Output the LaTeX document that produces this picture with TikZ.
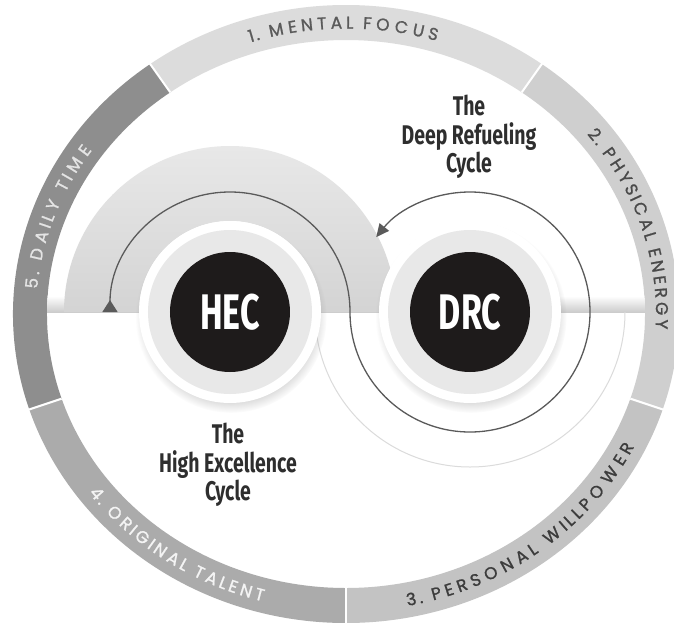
\documentclass[tikz,border=0pt]{standalone}
\usepackage{fontspec}
\usepackage{graphicx}
\usetikzlibrary{arrows.meta,decorations.text,shadows,fadings}
\newfontfamily\ringfont[FakeBold=1.2]{Poppins}
\newfontfamily\condfont{Fira Sans}
\definecolor{segA}{HTML}{DCDCDC}
\definecolor{segB}{HTML}{CFCFCF}
\definecolor{segC}{HTML}{C3C3C3}
\definecolor{segD}{HTML}{ABABAB}
\definecolor{segE}{HTML}{8E8E8E}
\definecolor{txtA}{HTML}{5A5A5A}
\definecolor{txtB}{HTML}{4A4A4A}
\definecolor{txtC}{HTML}{3C3C3C}
\definecolor{txtD}{HTML}{F4F4F4}
\definecolor{txtE}{HTML}{E4E4E4}
\definecolor{corefill}{HTML}{1E1B1B}
\definecolor{arcgray}{HTML}{5A5A5A}
\definecolor{labelgray}{HTML}{2E2E2E}
\begin{document}
\begin{tikzpicture}[x=1pt,y=1pt,
  ringtext/.style 2 args={decorate,decoration={text effects along path,text={#2},
    text effects/.cd,fit text to path,characters={text along path,inner sep=0pt,text=#1,font=\ringfont\fontsize{17}{17}\selectfont}}},
  outerdisc/.style={circle,fill=white,minimum size=182pt,inner sep=0pt,
    circular drop shadow={shadow xshift=1pt,shadow yshift=-5pt,shadow scale=1.05,opacity=.35}},
  innerdisc/.style={circle,fill=black!9,minimum size=164pt,inner sep=0pt},
  core/.style={circle,fill=corefill,minimum size=120pt,inner sep=0pt,text=white,
    font=\condfont\bfseries\fontsize{50}{50}\selectfont},
  cyclelabel/.style={text=labelgray,inner sep=0pt,font=\condfont\bfseries\fontsize{27}{24}\selectfont},
  cycleline/.style={draw=arcgray,line width=1.3pt,
    {Triangle[reversed,width=15pt,length=12pt]}-{Triangle[width=12pt,length=13pt]}}]
  \def\rxo{333}
  \def\ryo{309}
  \def\rxi{299}
  \def\ryi{274}
  \useasboundingbox (-346,-310) rectangle (328,312);
  \fill[white] (-346,-310) rectangle (328,312);

  % outer ring of five parts
  \begin{scope}[shift={(0,-2)}]
    \foreach \a/\b/\c in {54/126/segA,-18/54/segB,-90/-18/segC,198/270/segD,126/198/segE}
      \fill[\c] (\a:\rxo pt and \ryo pt) arc[start angle=\a,end angle=\b,x radius=\rxo,y radius=\ryo]
        -- (\b:\rxi pt and \ryi pt) arc[start angle=\b,end angle=\a,x radius=\rxi,y radius=\ryi] -- cycle;
    \foreach \a in {-90,-18,54,126,198}
      \draw[white,line width=2pt] (\a:\rxi pt and \ryi pt) -- (\a:340pt and 316pt);
    \path[ringtext={txtA}{1. MENTAL FOCUS}] (108:310pt and 285.5pt) arc[start angle=108,end angle=73,x radius=310,y radius=285.5];
    \path[ringtext={txtB}{2. PHYSICAL ENERGY}] (39:310pt and 285.5pt) arc[start angle=39,end angle=-3,x radius=310,y radius=285.5];
    \path[ringtext={txtC}{3. PERSONAL WILLPOWER}] (-79:322pt and 297.5pt) arc[start angle=-79,end angle=-26.5,x radius=322,y radius=297.5];
    \path[ringtext={txtD}{4. ORIGINAL TALENT}] (217:322pt and 297.5pt) arc[start angle=217,end angle=255,x radius=322,y radius=297.5];
    \path[ringtext={txtE}{5. DAILY TIME}] (175:310pt and 285.5pt) arc[start angle=175,end angle=145,x radius=310,y radius=285.5];
    % shadow along the middle line
    \clip (0,0) ellipse[x radius=\rxi,y radius=\ryi];
    \shade[top color=white,bottom color=black!20] (-300,2) rectangle (300,18);
  \end{scope}

  \coordinate (hecc) at (-116,0);
  \coordinate (drcc) at (124,0);

  % band over HEC, white band under DRC
  \shade[top color=black!9,bottom color=black!17] ([xshift=-166pt]hecc) arc[start angle=180,end angle=0,radius=166]
    -- ([xshift=91pt]hecc) arc[start angle=0,end angle=180,radius=91] -- cycle;
  \draw[black!14,line width=1pt] ([xshift=-155pt]drcc) arc[start angle=180,end angle=360,radius=155];

  \draw[cycleline] ([xshift=-120pt]hecc) arc[start angle=180,end angle=0,radius=120]
    arc[start angle=180,end angle=501.4,radius=120];

  \node[outerdisc] (hecrim) at (hecc) {};
  \node[innerdisc] (hecmid) at (hecrim) {};
  \node[core] (hec) at (hecrim) {\scalebox{.68}[1]{HEC}};
  \node[outerdisc] (drcrim) at (drcc) {};
  \node[innerdisc] (drcmid) at (drcrim) {};
  \node[core] (drc) at (drcrim) {\scalebox{.68}[1]{DRC}};

  \node[cyclelabel] (drclabel) at (123,175) {\scalebox{.72}[1]{\begin{tabular}{@{}c@{}}The\\Deep Refueling\\Cycle\end{tabular}}};
  \node[cyclelabel] (heclabel) at (-118,-153) {\scalebox{.72}[1]{\begin{tabular}{@{}c@{}}The\\High Excellence\\Cycle\end{tabular}}};
\end{tikzpicture}
\end{document}
